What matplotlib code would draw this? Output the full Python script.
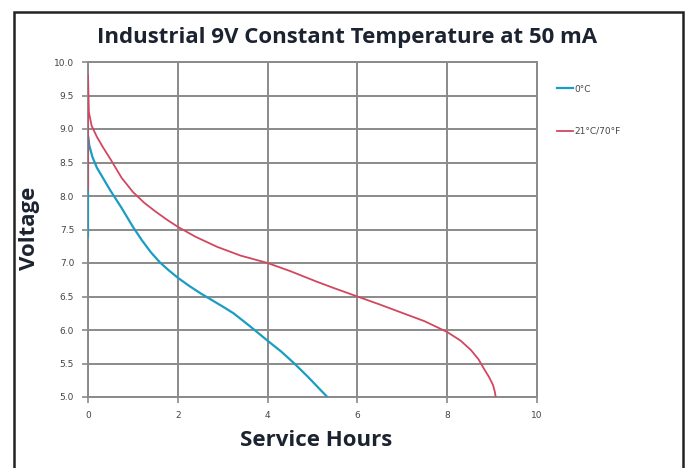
import matplotlib.pyplot as plt
from matplotlib.patches import Rectangle


# 0°C curve (hours, volts)
COLD_HOURS = [0.0, 0.0, 0.03, 0.1, 0.2, 0.35, 0.5, 0.75, 1.0, 1.2, 1.4, 1.6, 1.8, 2.0,
              2.25, 2.5, 3.0, 3.24, 3.6, 4.0, 4.3, 4.58, 4.9, 5.1, 5.33]
COLD_VOLTS = [7.4, 8.9, 8.75, 8.58, 8.42, 8.25, 8.08, 7.82, 7.54, 7.34, 7.16, 7.01, 6.89, 6.78,
              6.66, 6.55, 6.35, 6.25, 6.06, 5.84, 5.68, 5.51, 5.3, 5.16, 5.0]

# 21°C/70°F curve
WARM_HOURS = [0.0, 0.0, 0.02, 0.08, 0.2, 0.34, 0.5, 0.75, 1.0, 1.25, 1.5, 1.75, 2.0, 2.4,
              2.88, 3.4, 4.0, 4.5, 5.1, 5.5, 6.0, 6.5, 6.9, 7.5, 8.0, 8.3, 8.53, 8.7,
              8.82, 8.93, 9.02, 9.06, 9.08]
WARM_VOLTS = [8.1, 9.8, 9.25, 9.05, 8.88, 8.72, 8.55, 8.27, 8.06, 7.9, 7.77, 7.65, 7.54, 7.39,
              7.24, 7.11, 7.0, 6.88, 6.72, 6.62, 6.5, 6.38, 6.28, 6.13, 5.97, 5.84, 5.7, 5.56,
              5.42, 5.3, 5.18, 5.08, 5.0]

X_TICKS = [0, 2, 4, 6, 8, 10]
Y_TICKS = [5.0, 5.5, 6.0, 6.5, 7.0, 7.5, 8.0, 8.5, 9.0, 9.5, 10.0]

COLD_LABEL = "0°C"
WARM_LABEL = "21°C/70°F"

BLUE = "#1b9cc4"
RED = "#d2475f"
GRID = "#8a8a8a"
TEXT = "#1c2330"


def main():
    fig = plt.figure(figsize=(6.92, 4.68), dpi=100)
    ax = fig.add_axes([88 / 692, 1 - 397 / 468, (537 - 88) / 692, (397 - 62) / 468])

    # внешняя рамка (низ обрезан)
    fig.patches.append(Rectangle(
        (14 / 692, -0.1), (683 - 14) / 692, 1.1 - 12 / 468,
        transform=fig.transFigure, fill=False, edgecolor="#222222", linewidth=1.8,
    ))

    ax.plot(COLD_HOURS, COLD_VOLTS, color=BLUE, linewidth=1.6, label=COLD_LABEL, zorder=3)
    ax.plot(WARM_HOURS, WARM_VOLTS, color=RED, linewidth=1.3, label=WARM_LABEL, zorder=4)

    ax.set_xlim(0, 10)
    ax.set_ylim(5, 10)
    ax.set_xticks(X_TICKS)
    ax.set_yticks(Y_TICKS)
    ax.set_xticklabels([str(t) for t in X_TICKS])
    ax.set_yticklabels([f"{t:.1f}" for t in Y_TICKS])

    ax.grid(True, color=GRID, linewidth=1.4)
    ax.set_axisbelow(True)
    for side in ["top", "right", "left", "bottom"]:
        ax.spines[side].set_color(GRID)
        ax.spines[side].set_linewidth(1.4)

    ax.tick_params(axis="both", colors=GRID, length=4, width=1.2, labelsize=6.5, labelcolor="#444444")
    ax.tick_params(axis="x", pad=6)
    ax.tick_params(axis="y", pad=6)

    title_font = {"family": "Open Sans", "fontweight": "bold", "color": TEXT}
    fig.text(347 / 692, 1 - 37 / 468, "Industrial 9V Constant Temperature at 50 mA",
             ha="center", va="center", fontsize=16, **title_font)
    fig.text(316 / 692, 1 - 440 / 468, "Service Hours",
             ha="center", va="center", fontsize=16, **title_font)
    fig.text(29 / 692, 1 - 228 / 468, "Voltage", rotation=90,
             ha="center", va="center", fontsize=16, **title_font)

    ax.legend(
        loc="upper left", bbox_to_anchor=(552 / 692, 1 - 80 / 468),
        bbox_transform=fig.transFigure, frameon=False, fontsize=6.5,
        handlelength=1.8, handletextpad=0.2, labelspacing=3.7, borderpad=0,
        labelcolor="#444444",
    )

    fig.savefig("out.png", dpi=100)
    plt.close(fig)


if __name__ == "__main__":
    main()
